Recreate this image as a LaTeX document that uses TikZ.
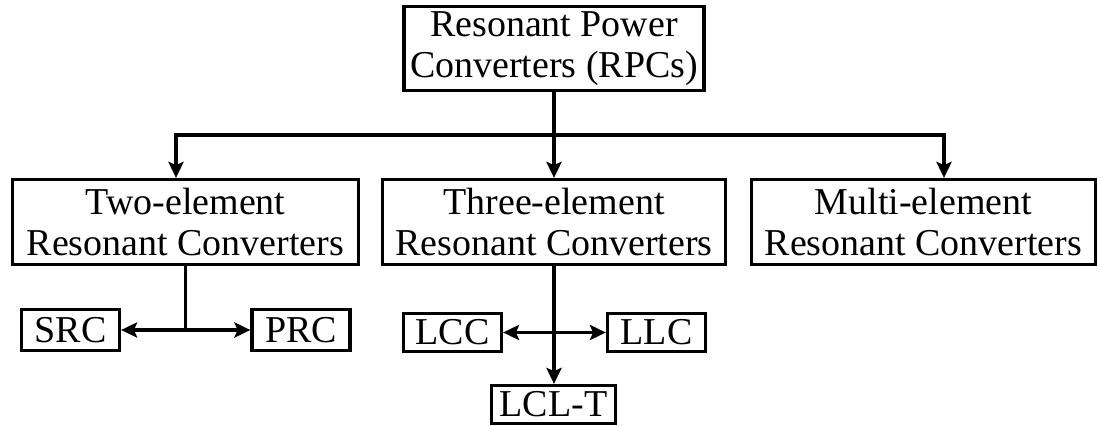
\documentclass[tikz,border=0pt]{standalone}
\usepackage{fontspec}
\setmainfont{Liberation Serif}
\usetikzlibrary{arrows.meta}

\begin{document}
\begin{tikzpicture}[x=0.025cm,y=-0.025cm,
	box/.style={draw,line width=2.3pt,inner sep=0pt,align=center,
		font=\fontsize{27}{29}\selectfont},
	wire/.style={line width=2.3pt},
	arr/.style={wire,-{Stealth[length=0.4cm,width=0.38cm,inset=0.08cm]}},
	darr/.style={wire,{Stealth[length=0.4cm,width=0.38cm,inset=0.08cm]}-{Stealth[length=0.4cm,width=0.38cm,inset=0.08cm]}}]
	\useasboundingbox (0,0) rectangle (1100,426);

	\node[box,minimum width=7.5cm,minimum height=2.1cm] (rpc) at (554,48.5)
		{Resonant Power\\Converters (RPCs)};

	\node[box,minimum width=8.65cm,minimum height=2.125cm] (two) at (185.5,222)
		{Two-element\\Resonant Converters};
	\node[box,minimum width=8.575cm,minimum height=2.125cm] (three) at (554,222)
		{Three-element\\Resonant Converters};
	\node[box,minimum width=8.6cm,minimum height=2.125cm] (multi) at (923.5,222)
		{Multi-element\\Resonant Converters};

	\node[box,minimum width=2.45cm,minimum height=1.025cm] (src) at (70.5,330) {SRC};
	\node[box,minimum width=2.45cm,minimum height=1.025cm] (prc) at (301,330) {PRC};

	\node[box,minimum width=2.45cm,minimum height=0.95cm] (lcc) at (452.5,332.5) {LCC};
	\node[box,minimum width=2.45cm,minimum height=0.95cm] (llc) at (656.5,332.5) {LLC};
	\node[box,minimum width=3.1cm,minimum height=0.95cm] (lclt) at (553.5,404.5) {LCL-T};

	\coordinate (bus) at (554,135);
	\coordinate (busl) at (176,135);
	\coordinate (busr) at (944,135);
	\draw[wire] (rpc.south) -- (bus);
	\draw[arr] (bus) -- (busl) -- (busl |- two.north);
	\draw[arr] (bus) -- (busr) -- (busr |- multi.north);
	\draw[arr] (bus) -- (three.north);

	\coordinate (tsplit) at (two.south |- src.east);
	\draw[wire] (two.south) -- (tsplit);
	\draw[darr] (src.east) -- (prc.west);

	\draw[arr] (three.south) -- (three.south |- lclt.north);
	\draw[darr] (lcc.east) -- (llc.west);
\end{tikzpicture}
\end{document}
